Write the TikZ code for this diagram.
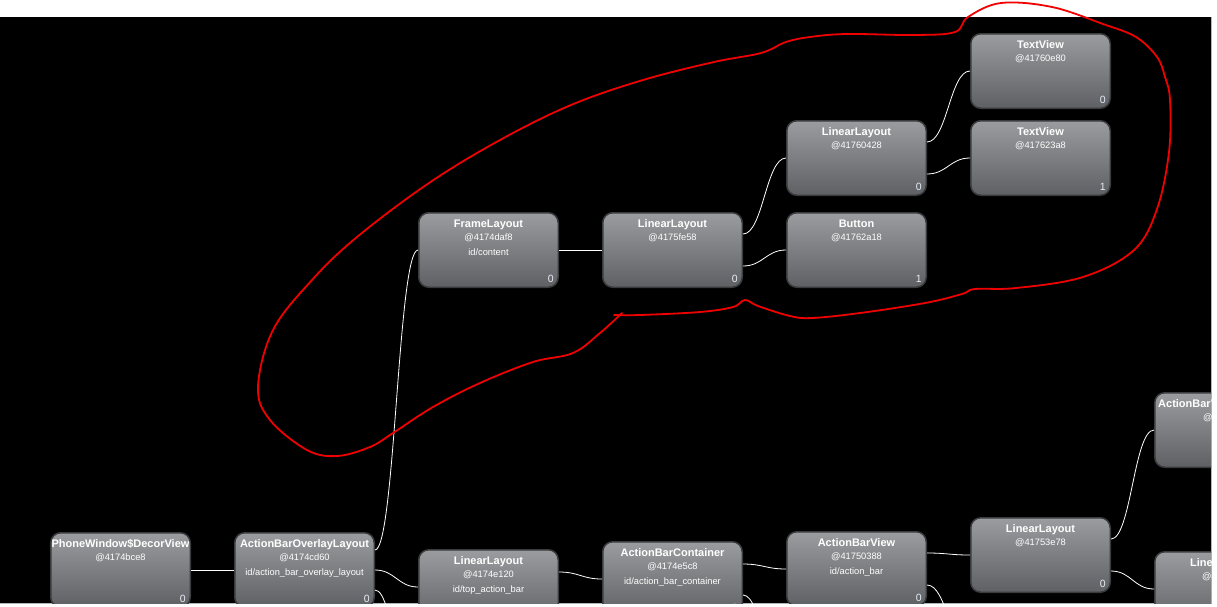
\documentclass[tikz,border=0pt]{standalone}
\usepackage{fontspec}
\setmainfont{Liberation Sans}
\definecolor{boxtop}{HTML}{9A9C9F}
\definecolor{boxbot}{HTML}{5E6063}
\definecolor{boxline}{HTML}{3A3B3C}
\definecolor{idxcol}{HTML}{E6EEF6}
\definecolor{edgegrey}{HTML}{B4B4B4}
\definecolor{penred}{HTML}{F00000}

\begin{document}
\begin{tikzpicture}[x=1pt,y=-1pt,
    view/.style={draw=boxline,line width=1.5pt,rounded corners=10pt,top color=boxtop,bottom color=boxbot,minimum width=139.5pt,minimum height=74.5pt,inner sep=0pt},
    ttl/.style={anchor=base,text=white,inner sep=0pt,font=\bfseries\fontsize{11}{13}\selectfont},
    sub/.style={anchor=base,text=white,inner sep=0pt,font=\fontsize{9.3}{11}\selectfont},
    idx/.style={anchor=base east,text=idxcol,inner sep=0pt,font=\fontsize{10.5}{12}\selectfont},
    wire/.style={white,line width=0.8pt}]
    \useasboundingbox (0,0) rectangle (1217,606);
    \fill[white] (0,0) rectangle (1217,606);
    \fill[black] (0,17) rectangle (1211,603);
    \draw[edgegrey,line width=1pt] (0,603.5) -- (1211.5,603.5) -- (1211.5,17);

    \begin{scope}
        \clip (0,17) rectangle (1211,603);
        % boxes
        \node[view] (decor) at (120.5,570) {};
        \node[view] (ovl) at (304.5,570) {};
        \node[view] (fl) at (488.5,250) {};
        \node[view] (top) at (488.5,587) {};
        \node[view] (llB) at (672.5,250) {};
        \node[view] (abc) at (672.5,579) {};
        \node[view] (llC) at (856.5,158) {};
        \node[view] (btn) at (856.5,250) {};
        \node[view] (abv) at (856.5,569) {};
        \node[view] (tvA) at (1040.5,71) {};
        \node[view] (tvB) at (1040.5,158) {};
        \node[view] (llD) at (1040.5,555) {};
        \node[view] (abvH) at (1224.5,430) {};
        \node[view] (llE) at (1224.5,589) {};
        \coordinate (ovlX) at (418,720);
        \coordinate (abcX) at (786,690);
        \coordinate (abvX) at (970,650);

        % texts
        \node[ttl] (decorT) at ([yshift=-15pt]decor.north) {PhoneWindow\$DecorView};
        \node[sub] (decorA) at ([yshift=-28pt]decor.north) {@4174bce8};
        \node[idx] (decorN) at ([xshift=-5pt,yshift=6pt]decor.south east) {0};
        \node[ttl] (ovlT) at ([yshift=-15pt]ovl.north) {ActionBarOverlayLayout};
        \node[sub] (ovlA) at ([yshift=-28pt]ovl.north) {@4174cd60};
        \node[sub] (ovlI) at ([yshift=-43pt]ovl.north) {id/action\_bar\_overlay\_layout};
        \node[idx] (ovlN) at ([xshift=-5pt,yshift=6pt]ovl.south east) {0};
        \node[ttl] (flT) at ([yshift=-15pt]fl.north) {FrameLayout};
        \node[sub] (flA) at ([yshift=-28pt]fl.north) {@4174daf8};
        \node[sub] (flI) at ([yshift=-43pt]fl.north) {id/content};
        \node[idx] (flN) at ([xshift=-5pt,yshift=6pt]fl.south east) {0};
        \node[ttl] (topT) at ([yshift=-15pt]top.north) {LinearLayout};
        \node[sub] (topA) at ([yshift=-28pt]top.north) {@4174e120};
        \node[sub] (topI) at ([yshift=-43pt]top.north) {id/top\_action\_bar};
        \node[ttl] (llBT) at ([yshift=-15pt]llB.north) {LinearLayout};
        \node[sub] (llBA) at ([yshift=-28pt]llB.north) {@4175fe58};
        \node[idx] (llBN) at ([xshift=-5pt,yshift=6pt]llB.south east) {0};
        \node[ttl] (abcT) at ([yshift=-15pt]abc.north) {ActionBarContainer};
        \node[sub] (abcA) at ([yshift=-28pt]abc.north) {@4174e5c8};
        \node[sub] (abcI) at ([yshift=-43pt]abc.north) {id/action\_bar\_container};
        \node[idx] (abcN) at ([xshift=-5pt,yshift=6pt]abc.south east) {0};
        \node[ttl] (llCT) at ([yshift=-15pt]llC.north) {LinearLayout};
        \node[sub] (llCA) at ([yshift=-28pt]llC.north) {@41760428};
        \node[idx] (llCN) at ([xshift=-5pt,yshift=6pt]llC.south east) {0};
        \node[ttl] (btnT) at ([yshift=-15pt]btn.north) {Button};
        \node[sub] (btnA) at ([yshift=-28pt]btn.north) {@41762a18};
        \node[idx] (btnN) at ([xshift=-5pt,yshift=6pt]btn.south east) {1};
        \node[ttl] (abvT) at ([yshift=-15pt]abv.north) {ActionBarView};
        \node[sub] (abvA) at ([yshift=-28pt]abv.north) {@41750388};
        \node[sub] (abvI) at ([yshift=-43pt]abv.north) {id/action\_bar};
        \node[idx] (abvN) at ([xshift=-5pt,yshift=6pt]abv.south east) {0};
        \node[ttl] (tvAT) at ([yshift=-15pt]tvA.north) {TextView};
        \node[sub] (tvAA) at ([yshift=-28pt]tvA.north) {@41760e80};
        \node[idx] (tvAN) at ([xshift=-5pt,yshift=6pt]tvA.south east) {0};
        \node[ttl] (tvBT) at ([yshift=-15pt]tvB.north) {TextView};
        \node[sub] (tvBA) at ([yshift=-28pt]tvB.north) {@417623a8};
        \node[idx] (tvBN) at ([xshift=-5pt,yshift=6pt]tvB.south east) {1};
        \node[ttl] (llDT) at ([yshift=-15pt]llD.north) {LinearLayout};
        \node[sub] (llDA) at ([yshift=-28pt]llD.north) {@41753e78};
        \node[idx] (llDN) at ([xshift=-5pt,yshift=6pt]llD.south east) {0};
        \node[ttl,anchor=base west] (abvHT) at ([xshift=4pt,yshift=-15pt]abvH.north west) {ActionBarV};
        \node[sub,anchor=base west] (abvHA) at ([xshift=49pt,yshift=-28pt]abvH.north west) {@4};
        \node[ttl,anchor=base west] (llET) at ([xshift=36pt,yshift=-15pt]llE.north west) {Line};
        \node[sub,anchor=base west] (llEA) at ([xshift=48pt,yshift=-28pt]llE.north west) {@4};

        % connectors
        \draw[wire] (decor.east) -- (ovl.west);
        \draw[wire] ([yshift=20pt]ovl.east) .. controls +(20,0) and +(-20,0) .. (fl.west);
        \draw[wire] (ovl.east) .. controls +(20,0) and +(-20,0) .. (top.west);
        \draw[wire] ([yshift=-20pt]ovl.east) .. controls +(20,0) and +(-20,0) .. (ovlX);
        \draw[wire] (fl.east) -- (llB.west);
        \draw[wire] ([yshift=16pt]llB.east) .. controls +(20,0) and +(-20,0) .. (llC.west);
        \draw[wire] ([yshift=-16pt]llB.east) .. controls +(20,0) and +(-20,0) .. (btn.west);
        \draw[wire] ([yshift=16pt]llC.east) .. controls +(20,0) and +(-20,0) .. (tvA.west);
        \draw[wire] ([yshift=-16pt]llC.east) .. controls +(20,0) and +(-20,0) .. (tvB.west);
        \draw[wire] ([yshift=15pt]top.east) .. controls +(20,0) and +(-20,0) .. (abc.west);
        \draw[wire] ([yshift=15pt]abc.east) .. controls +(20,0) and +(-20,0) .. (abv.west);
        \draw[wire] ([yshift=-16pt]abc.east) .. controls +(20,0) and +(-20,0) .. (abcX);
        \draw[wire] ([yshift=16pt]abv.east) .. controls +(20,0) and +(-20,0) .. (llD.west);
        \draw[wire] ([yshift=-16pt]abv.east) .. controls +(20,0) and +(-20,0) .. (abvX);
        \draw[wire] ([yshift=16pt]llD.east) .. controls +(20,0) and +(-20,0) .. (abvH.west);
        \draw[wire] ([yshift=-16pt]llD.east) .. controls +(20,0) and +(-20,0) .. (llE.west);
    \end{scope}

    % red hand-drawn loop
    \draw[penred,line width=1.8pt,line cap=round,line join=round] plot[smooth,tension=0.6] coordinates {(614,315) (640,315) (700,312) (733,307) (745,300) (758,306) (790,316) (812,318) (860,313) (925,303) (962,294) (975,289) (1016,288) (1083,277) (1134,250) (1157,209) (1169,152) (1170,100) (1165,77) (1157,57) (1136,37) (1103,24) (1052,7) (1001,3) (968,17) (955,32) (915,35) (847,34) (810,37) (786,42) (761,53) (714,62) (643,80) (571,105) (500,140) (429,183) (357,237) (312,280) (273,330) (258,387) (270,420) (307,450) (337,456) (370,447) (393,433) (433,407) (480,383) (533,362) (573,353) (600,333) (622,313)};
\end{tikzpicture}
\end{document}
